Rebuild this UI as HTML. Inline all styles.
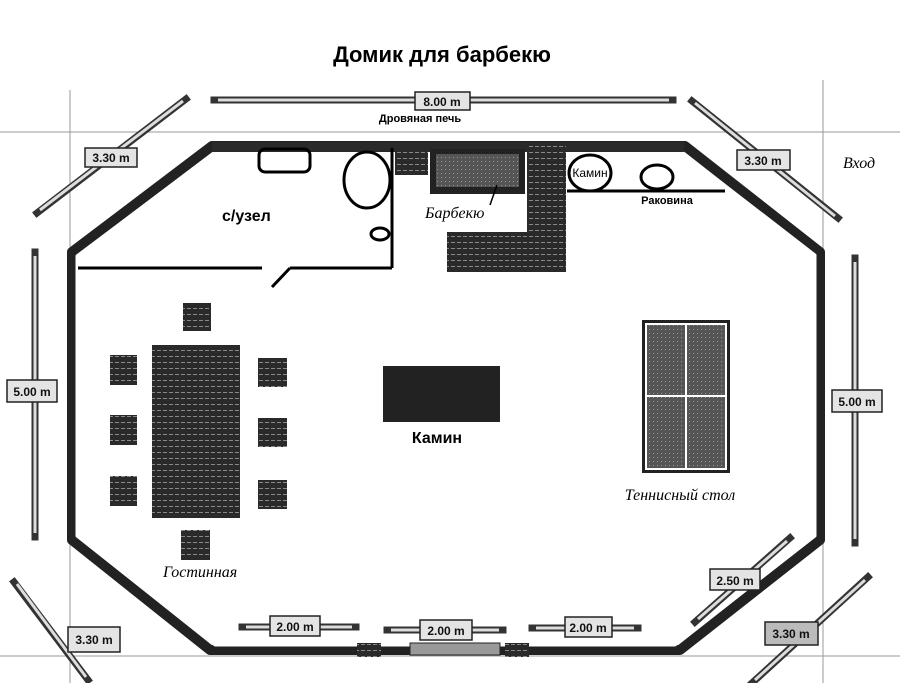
<!DOCTYPE html>
<html><head><meta charset="utf-8"><style>
html,body{margin:0;padding:0;background:#fff;}
svg{display:block;}
text{font-family:"Liberation Sans","DejaVu Sans",sans-serif;}
.it{font-family:"Liberation Serif","DejaVu Serif",serif;font-style:italic;}
</style></head><body>
<svg width="900" height="683" viewBox="0 0 900 683" xmlns="http://www.w3.org/2000/svg">
<defs>
<pattern id="hatch" width="6" height="6" patternUnits="userSpaceOnUse">
<rect width="6" height="6" fill="#2a2a2a"/><rect x="1" y="2" width="4" height="1" fill="#888"/>
</pattern>
<pattern id="grayp" width="4" height="4" patternUnits="userSpaceOnUse">
<rect width="4" height="4" fill="#555"/><rect x="1" y="1" width="1" height="1" fill="#999"/>
</pattern>
</defs>
<!-- guide lines -->
<g stroke="#999" stroke-width="1">
<line x1="70" y1="90" x2="70" y2="683"/>
<line x1="823" y1="80" x2="823" y2="683"/>
<line x1="0" y1="132" x2="900" y2="132"/>
<line x1="0" y1="656" x2="900" y2="656"/>
</g>
<text x="442" y="62" font-size="22" font-weight="bold" text-anchor="middle">Домик для барбекю</text>

<!-- walls -->
<g fill="none" stroke="#222" stroke-linejoin="round">
<polygon points="212,146 685,146 820,252 820,540 680,650 210,650 72,540 72,252" stroke-width="10"/>
</g>
<g fill="none" stroke="#fff" stroke-linejoin="round">
<polygon points="218,150 679,150 815,255 815,536 675,645 215,645 77,536 77,256" stroke-width="3"/>
</g>
<rect x="212" y="142" width="472" height="10" fill="#2a2a2a"/>
<!-- interior toilet -->
<g stroke="#000" stroke-width="3" fill="none">
<line x1="78" y1="268" x2="262" y2="268"/>
<line x1="290" y1="268" x2="392" y2="268"/>
<line x1="290" y1="268" x2="272" y2="287"/>
<line x1="392" y1="148" x2="392" y2="268"/>
<rect x="259" y="149" width="51" height="23" rx="6"/>
<ellipse cx="367" cy="180" rx="23" ry="28"/>
<ellipse cx="380" cy="234" rx="9" ry="6"/>
<ellipse cx="590" cy="173" rx="21" ry="18"/>
<ellipse cx="657" cy="177" rx="16" ry="12"/>
<line x1="567" y1="191" x2="725" y2="191"/>
</g>
<text x="222" y="221" font-size="16" font-weight="bold">с/узел</text>
<text x="420" y="122" font-size="11" font-weight="bold" text-anchor="middle">Дровяная печь</text>
<text x="590" y="177" font-size="12" text-anchor="middle">Камин</text>
<text x="667" y="204" font-size="11" font-weight="bold" text-anchor="middle">Раковина</text>

<!-- barbecue -->
<rect x="395" y="148" width="33" height="27" fill="url(#hatch)"/>
<rect x="430" y="149" width="95" height="45" fill="#222"/>
<rect x="436" y="154" width="83" height="33" fill="url(#grayp)"/>
<rect x="527" y="145" width="39" height="125" fill="url(#hatch)"/>
<rect x="447" y="232" width="119" height="40" fill="url(#hatch)"/>
<line x1="497" y1="185" x2="490" y2="205" stroke="#000" stroke-width="1.5"/>
<text x="425" y="218" font-size="16" class="it">Барбекю</text>
<text x="843" y="168" font-size="16" class="it">Вход</text>

<!-- dining -->
<rect x="152" y="345" width="88" height="173" fill="url(#hatch)"/>
<g fill="url(#hatch)">
<rect x="183" y="303" width="28" height="28"/>
<rect x="110" y="355" width="27" height="30"/>
<rect x="110" y="415" width="27" height="30"/>
<rect x="110" y="476" width="27" height="30"/>
<rect x="258" y="358" width="29" height="29"/>
<rect x="258" y="418" width="29" height="29"/>
<rect x="258" y="480" width="29" height="29"/>
<rect x="181" y="530" width="29" height="30"/>
</g>
<text x="163" y="577" font-size="16" class="it">Гостинная</text>
<!-- fireplace -->
<rect x="383" y="366" width="117" height="56" fill="#222"/>
<text x="437" y="443" font-size="16" font-weight="bold" text-anchor="middle">Камин</text>
<!-- tennis -->
<rect x="642" y="320" width="88" height="153" fill="#222"/>
<rect x="646" y="324" width="80" height="145" fill="url(#grayp)" stroke="#fff" stroke-width="2"/>
<line x1="686" y1="324" x2="686" y2="469" stroke="#fff" stroke-width="2"/>
<line x1="646" y1="396" x2="726" y2="396" stroke="#fff" stroke-width="2"/>
<text x="680" y="500" font-size="16" class="it" text-anchor="middle">Теннисный стол</text>

<!-- dimension arrows -->
<g stroke="#333" stroke-width="7" stroke-linecap="square">
<line x1="214" y1="100" x2="673" y2="100"/>
<line x1="37" y1="213" x2="186" y2="99"/>
<line x1="692" y1="101" x2="838" y2="218"/>
<line x1="35" y1="252" x2="35" y2="537"/>
<line x1="855" y1="258" x2="855" y2="543"/>
<line x1="242" y1="627" x2="356" y2="627"/>
<line x1="387" y1="630" x2="503" y2="630"/>
<line x1="532" y1="628" x2="638" y2="628"/>
<line x1="695" y1="622" x2="790" y2="538"/>
<line x1="14" y1="582" x2="88" y2="680"/>
<line x1="868" y1="577" x2="752" y2="683"/>
</g>
<g stroke="#ddd" stroke-width="3">
<line x1="218" y1="100" x2="669" y2="100"/>
<line x1="40" y1="210" x2="183" y2="101"/>
<line x1="695" y1="103" x2="835" y2="216"/>
<line x1="35" y1="256" x2="35" y2="533"/>
<line x1="855" y1="262" x2="855" y2="539"/>
<line x1="246" y1="627" x2="352" y2="627"/>
<line x1="391" y1="630" x2="499" y2="630"/>
<line x1="536" y1="628" x2="634" y2="628"/>
<line x1="698" y1="619" x2="787" y2="541"/>
<line x1="17" y1="584" x2="86" y2="677"/>
<line x1="865" y1="580" x2="755" y2="680"/>
</g>
<g fill="#e4e4e4" stroke="#222" stroke-width="1.5" font-size="12" font-weight="bold">
<rect x="415" y="92" width="55" height="18"/>
<rect x="85" y="148" width="52" height="19"/>
<rect x="737" y="150" width="53" height="20"/>
<rect x="7" y="380" width="50" height="22"/>
<rect x="832" y="390" width="50" height="22"/>
<rect x="270" y="616" width="50" height="20"/>
<rect x="420" y="620" width="52" height="20"/>
<rect x="565" y="617" width="47" height="20"/>
<rect x="710" y="569" width="50" height="21"/>
<rect x="68" y="627" width="52" height="25"/>
<rect x="765" y="622" width="53" height="23" fill="#bbb"/>
</g>
<g font-size="12" font-weight="bold" text-anchor="middle" fill="#111">
<text x="442" y="106">8.00 m</text>
<text x="111" y="162">3.30 m</text>
<text x="763" y="165">3.30 m</text>
<text x="32" y="396">5.00 m</text>
<text x="857" y="406">5.00 m</text>
<text x="295" y="631">2.00 m</text>
<text x="446" y="635">2.00 m</text>
<text x="588" y="632">2.00 m</text>
<text x="735" y="585">2.50 m</text>
<text x="94" y="644">3.30 m</text>
<text x="791" y="638">3.30 m</text>
</g>
<!-- bottom wall windows -->
<rect x="410" y="643" width="90" height="12" fill="#999" stroke="#222"/>
<g fill="url(#hatch)">
<rect x="357" y="643" width="24" height="14"/>
<rect x="505" y="643" width="24" height="14"/>
</g>
</svg>
</body></html>
